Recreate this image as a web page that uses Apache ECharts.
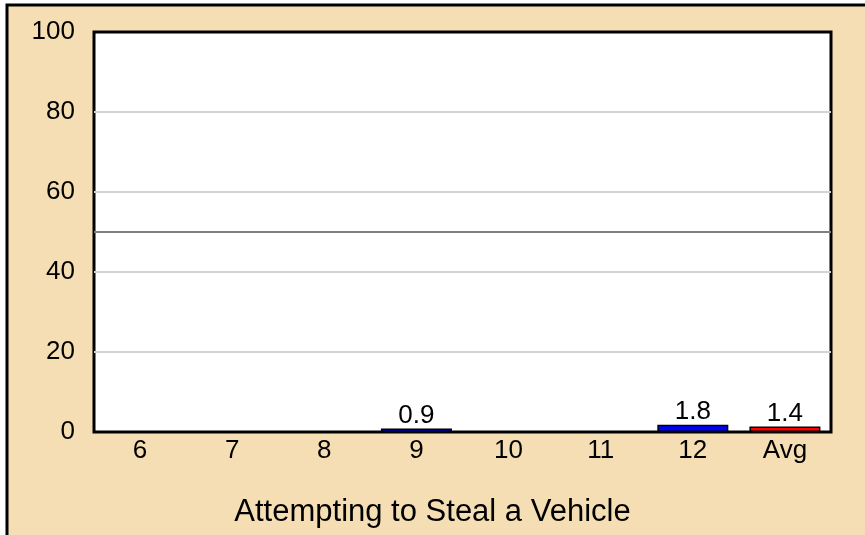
<!DOCTYPE html>
<html><head><meta charset="utf-8">
<script src="https://cdn.jsdelivr.net/npm/echarts@6/dist/echarts.min.js"></script>
<style>html,body{margin:0;padding:0;background:#fff}#c{width:865px;height:535px}</style>
</head><body><div id="c"></div>
<script>
const categories = ['6','7','8','9','10','11','12','Avg'];
const values = [0, 0, 0, 0.9, 0, 0, 1.8, 1.4];
const yTicks = [0, 20, 40, 60, 80, 100];
const refLine = 50;
const title = 'Attempting to Steal a Vehicle';

const FONT = '"Liberation Sans", Arial, sans-serif';
const chart = echarts.init(document.getElementById('c'), null, {renderer: 'canvas'});
chart.setOption({
  animation: false,
  backgroundColor: '#ffffff',
  graphic: [{
    type: 'rect', z: -10,
    shape: {x: 7, y: 5, width: 900, height: 600},
    style: {fill: '#F5DEB3', stroke: '#000', lineWidth: 3}
  }],
  title: {
    text: title, left: 'center', top: 492,
    textStyle: {fontFamily: FONT, fontSize: 31, fontWeight: 'normal', color: '#000'}
  },
  grid: {
    left: 94, top: 32, width: 737, height: 400,
    show: true, backgroundColor: '#fff', borderColor: '#000', borderWidth: 3
  },
  xAxis: {
    type: 'category', data: categories,
    axisLine: {show: false}, axisTick: {show: false},
    axisLabel: {fontFamily: FONT, fontSize: 26, color: '#000', margin: 6}
  },
  yAxis: {
    type: 'value', min: yTicks[0], max: yTicks[yTicks.length - 1], interval: 20,
    axisLine: {show: false}, axisTick: {show: false},
    axisLabel: {fontFamily: FONT, fontSize: 26, color: '#000', margin: 19, padding: [6, 0, 0, 0]},
    splitLine: {showMinLine: false, showMaxLine: false, lineStyle: {color: '#d3d3d3', width: 2}}
  },
  series: [{
    type: 'bar',
    data: values.map((v, i) => ({
      value: v,
      itemStyle: {
        color: i === values.length - 1 ? '#ff0000' : '#0000ff',
        borderWidth: v > 0 ? 1.5 : 0,
        opacity: v > 0 ? 1 : 0
      },
      label: {show: v > 0}
    })),
    barWidth: 71,
    itemStyle: {borderColor: '#000'},
    label: {
      position: 'top', distance: 0, color: '#000',
      fontFamily: FONT, fontSize: 26
    },
    markLine: {
      silent: true, symbol: 'none', label: {show: false},
      lineStyle: {color: '#808080', width: 2, type: 'solid'},
      data: [{yAxis: refLine}]
    }
  }]
});
</script></body></html>
